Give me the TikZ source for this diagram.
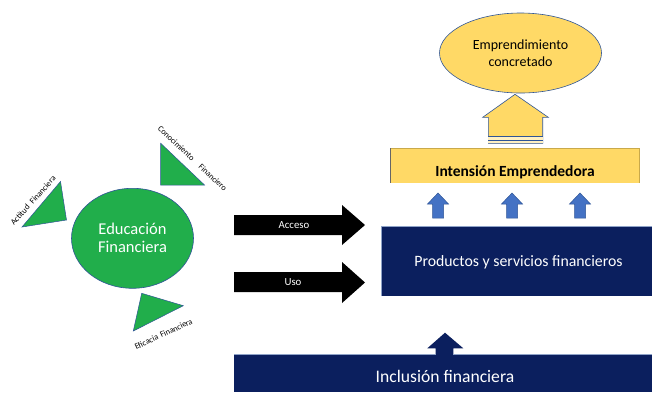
\documentclass[tikz,border=0pt]{standalone}
\usepackage{fontspec}
\setmainfont{Carlito}
\usetikzlibrary{shapes.geometric}
\definecolor{navy}{HTML}{0B1F5E}
\definecolor{navyedge}{HTML}{8FA3C8}
\definecolor{gold}{HTML}{FFD966}
\definecolor{goldedge}{HTML}{C9A94A}
\definecolor{grn}{HTML}{21AE4B}
\definecolor{blueedge}{HTML}{2F5597}
\definecolor{lblue}{HTML}{4472C4}
\tikzset{
  tri/.style={fill=grn, draw=blueedge, line width=0.5pt, line join=miter},
  trilabel/.style={font=\fontsize{8.3}{9}\selectfont, inner sep=0pt, text=black},
  blackarrow/.style={fill=black},
  smallarrow/.style={fill=lblue, draw=blueedge, line width=0.5pt},
  navybox/.style={fill=navy},
  whitetext/.style={text=white, inner sep=0pt},
}
\begin{document}
\begin{tikzpicture}[x=1pt,y=-1pt]
\useasboundingbox (0,0) rectangle (652,392);
\fill[white] (0,0) rectangle (652,392);

% top ellipse
\node[ellipse, fill=gold, draw=blueedge, line width=0.6pt, minimum width=162pt, minimum height=80pt, inner sep=0pt,
      align=center, font=\fontsize{14}{16.7}\selectfont] (emp) at (520.5,53) {Emprendimiento\\concretado};

% yellow up arrow with stripes
\path[fill=gold, draw=blueedge, line width=0.6pt]
  (515,94.3) coordinate (tipY) -- (548.3,117.3) -- (542.7,117.3) -- (542.7,143.3) -- (488.3,143.3) -- (488.3,117.3) -- (482.7,117.3) -- cycle;
\fill[white!60!gold] (488.3,137.2) rectangle (542.7,139.6);
\fill[white!60!gold] (488.3,140.6) rectangle (542.7,143);
\draw[blueedge, line width=0.6pt] (488.3,136.7) -- (542.7,136.7);
\draw[blueedge, line width=0.6pt] (488.3,140) -- (542.7,140);

% Intension box
\fill[gold] (390.7,148.3) rectangle (639.3,182.7);
\draw[goldedge, line width=0.4pt] (390.7,148.3) -- (639.3,148.3) -- (639.3,182.7);
\draw[black!60, line width=1pt] (390.7,148.3) -- (390.7,182.7);
\node[font=\bfseries\fontsize{15.5}{17}\selectfont, inner sep=0pt] (int) at (515,172.7) {Intensión Emprendedora};

% three small blue arrows
\foreach \cx/\nm in {438/a1, 512/a2, 580/a3}{
  \path[smallarrow] (\cx,193) coordinate (\nm) -- (\cx+10.5,204) -- (\cx+5.5,204) -- (\cx+5.5,218) -- (\cx-5.5,218) -- (\cx-5.5,204) -- (\cx-10.5,204) -- cycle;
}

% Productos box
\fill[navybox] (381,226.5) rectangle (652,296);
\draw[navyedge, line width=0.4pt] (381,296) -- (381,226.5) -- (652,226.5);
\node[whitetext, font=\fontsize{15.8}{18}\selectfont] (prod) at (518.5,262) {Productos y servicios financieros};

% Inclusion box and arrow
\path[fill=navy] (445,332.7) coordinate (tipN) -- (463.3,348.3) -- (453.3,348.3) -- (453.3,355) -- (435.7,355) -- (435.7,348.3) -- (427.3,348.3) -- cycle;
\fill[navybox] (234,354) rectangle (652,392);
\draw[navyedge, line width=0.4pt] (234,354) -- (435.7,354);
\draw[navyedge, line width=0.4pt] (453.3,354) -- (652,354);
\node[whitetext, font=\fontsize{17.6}{20}\selectfont] (incl) at (445,376) {Inclusión financiera};

% black arrows
\path[blackarrow] (234,215) -- (342,215) -- (342,205) -- (365,225) -- (342,245) -- (342,235) -- (234,235) -- cycle;
\node[whitetext, font=\fontsize{10.8}{12}\selectfont] (acc) at (294,225) {Acceso};
\path[blackarrow] (234,272) -- (342,272) -- (342,262) -- (365,282.5) -- (342,303) -- (342,292) -- (234,292) -- cycle;
\node[whitetext, font=\fontsize{10.8}{12}\selectfont] (uso) at (293,282) {Uso};

% green ellipse
\node[ellipse, fill=grn, draw=blueedge, line width=0.6pt, minimum width=122pt, minimum height=100pt, inner sep=0pt,
      align=center, text=white, font=\fontsize{16.5}{18}\selectfont] (edu) at (132.5,238.3) {Educación\\Financiera};

% triangles
\path[tri] (60.5,181.5) -- (22,227) -- (66.5,220) -- cycle;
\path[tri] (160.7,143.3) -- (160.7,185) -- (204.5,185) -- cycle;
\path[tri] (141.7,293.3) -- (183.3,305.7) -- (133.3,331) -- cycle;

% triangle labels
\node[trilabel, rotate=48] (act) at (33,200.5) {Actitud\hspace{4pt}Financiera};
\node[trilabel, rotate=-43] (con) at (192.5,158.5) {Conocimiento\hspace{9pt}Financiero};
\node[trilabel, rotate=25] (efi) at (163.5,334) {Eficacia\hspace{3pt}Financiera};
\end{tikzpicture}
\end{document}
